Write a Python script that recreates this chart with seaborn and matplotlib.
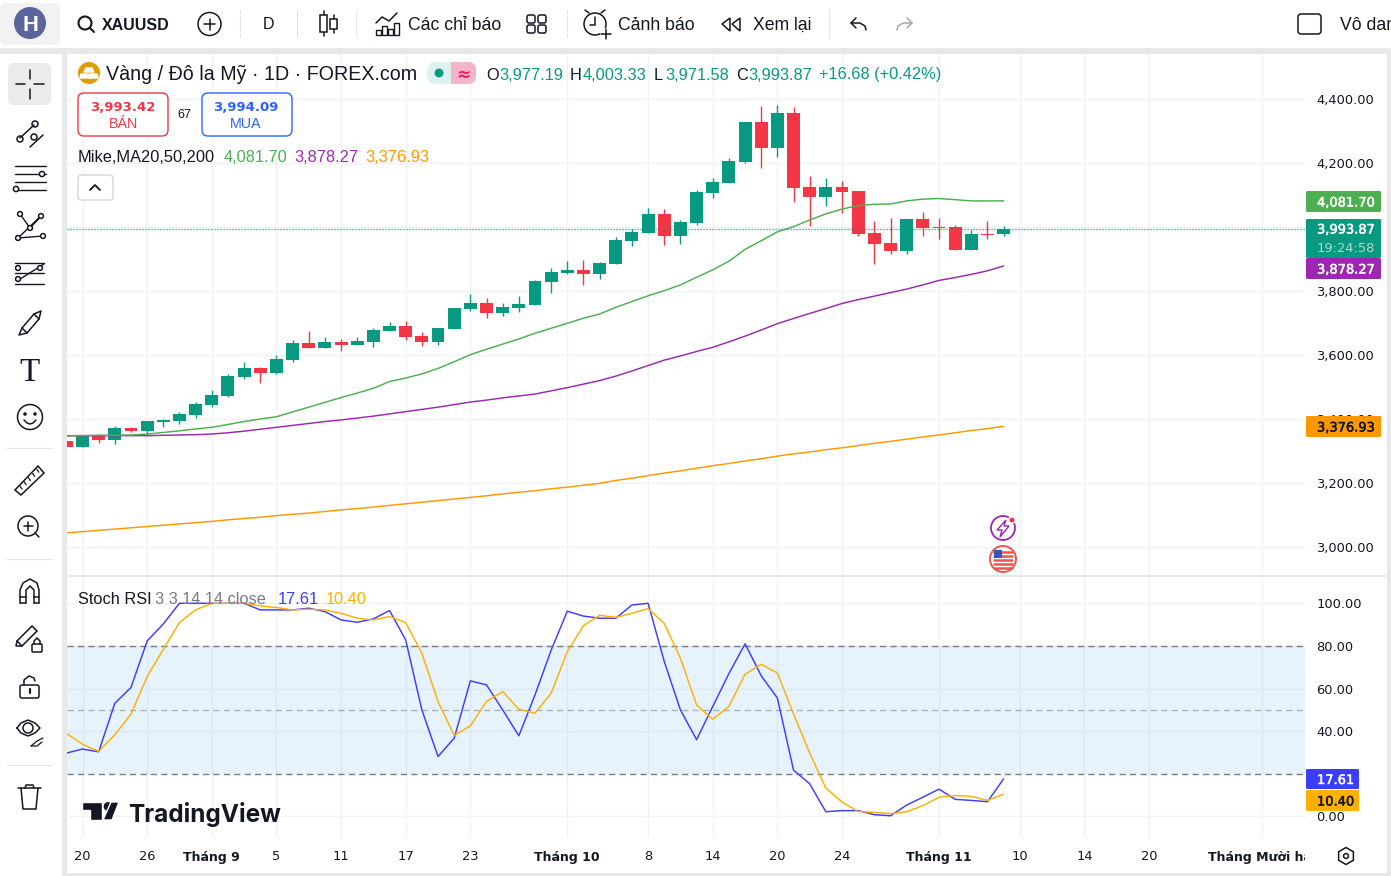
import matplotlib
matplotlib.use("Agg")
import matplotlib.pyplot as plt
import matplotlib.patheffects as pe
from matplotlib.patches import Circle, FancyBboxPatch, Polygon, Rectangle, RegularPolygon
import seaborn as sns

W, H = 1391, 876
BAR_PX = 16.16
BAR0_PX = 82.5

# daily candles, first one is cut by the left edge
bar_index = list(range(-1, 58))
opens = [3331, 3313, 3350, 3334, 3372, 3363, 3391, 3394, 3413, 3444, 3472, 3531, 3559, 3544, 3584, 3637.5, 3622, 3641, 3631, 3641,
         3675, 3691, 3659, 3641, 3681, 3744, 3762, 3731, 3747, 3756, 3828, 3856, 3866, 3853, 3884, 3956, 3981, 4041, 3972, 4012.5,
         4106, 4137.5, 4203, 4328, 4247, 4356, 4125, 4094, 4125, 4112.5, 3981, 3950, 3925, 4025, 4000, 4000, 3928, 3978, 3977.19]
highs = [3331, 3347, 3353, 3378, 3375, 3394, 3400, 3422, 3453, 3491, 3541, 3578, 3562, 3600, 3647, 3675, 3656, 3650, 3656, 3684,
         3703, 3706, 3672, 3684, 3747, 3791, 3778, 3762, 3784, 3834, 3872, 3894, 3897, 3891, 3969, 3994, 4059, 4056, 4022, 4116,
         4153, 4216, 4328, 4378, 4381, 4375, 4159, 4153, 4144, 4112.5, 4019, 4028, 4025, 4047, 4028, 4006, 3991, 4019, 4003.33]
lows = [3313, 3313, 3325, 3322, 3359, 3350, 3375, 3384, 3403, 3437.5, 3469, 3525, 3512.5, 3541, 3578, 3622, 3622, 3612.5, 3631, 3625,
        3675, 3647, 3628, 3631, 3681, 3737.5, 3716, 3722, 3734, 3756, 3794, 3853, 3819, 3837, 3884, 3941, 3981, 3944, 3947, 4006,
        4091, 4137.5, 4200, 4184, 4219, 4078, 4003, 4066, 4044, 3972, 3884, 3916, 3916, 3972, 3962.5, 3928, 3928, 3962.5, 3971.58]
closes = [3313, 3347, 3334, 3372, 3363, 3394, 3397, 3416, 3447, 3475, 3534, 3559, 3544, 3587.5, 3637.5, 3622, 3641, 3631, 3644, 3678,
          3691, 3656, 3641, 3684, 3747, 3762, 3731, 3750, 3759, 3831, 3859, 3866, 3853, 3888, 3959, 3984, 4041, 3972, 4016, 4109,
          4141, 4206, 4328, 4247, 4356, 4122, 4094, 4125, 4109, 3978, 3947, 3925, 4025, 3997, 3997, 3928, 3978, 3975, 3993.87]

ma20 = [3347, 3348, 3349, 3349, 3350, 3353, 3358, 3363, 3369, 3374, 3383, 3392, 3400, 3407, 3422, 3437, 3452, 3467, 3481, 3496,
        3517, 3528, 3541, 3558, 3579, 3601, 3618, 3634, 3650, 3668, 3683.5, 3699, 3715, 3728, 3749, 3767, 3785, 3801, 3819, 3843,
        3866, 3893, 3930, 3957, 3985, 4001, 4022, 4041, 4056, 4067, 4071, 4072, 4081.5, 4087, 4089, 4085.5, 4081.5, 4081.5, 4081.70]
ma50 = [3348, 3348, 3348, 3348, 3348, 3348, 3349, 3350, 3351, 3353, 3357, 3362, 3368, 3374, 3380, 3386, 3392, 3397, 3403, 3409,
        3416, 3423, 3430, 3437, 3445, 3453, 3459, 3466, 3472, 3478, 3488, 3498, 3509, 3520, 3534, 3550, 3567, 3584, 3597, 3611,
        3624, 3641, 3659, 3678, 3698, 3714, 3730, 3745, 3761, 3773, 3784, 3795, 3806, 3819, 3833, 3842, 3852, 3863, 3878.27]
ma200 = [3044, 3048, 3052, 3056, 3060, 3064, 3068, 3072, 3076, 3080, 3085, 3089, 3093, 3098, 3102, 3106, 3111, 3116, 3120, 3125,
         3130, 3135, 3140, 3145, 3150, 3155, 3160, 3166, 3171, 3176, 3182, 3187, 3193, 3199, 3208, 3215, 3223, 3231, 3238, 3246,
         3254, 3261, 3269, 3276, 3284, 3291, 3297, 3304, 3310, 3317, 3324, 3330, 3337, 3344, 3350, 3357, 3364, 3370, 3376.93]

stoch_k = [29.7, 31.6, 30.3, 53.1, 60.5, 82.3, 90.3, 100, 100, 100, 100, 100, 96.9, 96.9, 96.9, 97.7, 96.1, 92.2, 91.1, 92.7,
           96.6, 82.8, 50, 28.1, 36.7, 63.6, 61.7, 50, 37.8, 57, 78, 96.3, 94, 93, 93, 99.2, 100, 72.7, 50, 36,
           51.6, 67, 81, 66, 55.5, 21.7, 15.3, 2.2, 2.7, 2.7, 0.8, 0.3, 5.3, 9, 12.8, 8, 7.5, 6.9, 17.61]
stoch_d = [39, 33.9, 30.5, 38.3, 48, 65.6, 78.4, 91, 96.9, 100, 100, 100, 98.8, 98, 96.9, 97.2, 96.9, 95.3, 93, 92.2,
           93.8, 90.9, 76.6, 53.9, 38, 42.5, 53.9, 58.6, 50.3, 48.4, 57.8, 77.3, 89.5, 94.4, 93.4, 95.3, 97.5, 90.6, 74.2, 52.3,
           45.6, 51.6, 66.7, 71.4, 67.3, 48, 29.7, 13.3, 6.7, 2.3, 1.9, 1.3, 2.2, 5, 9, 9.8, 9.4, 7.5, 10.4]

price_ticks = [3000, 3200, 3400, 3600, 3800, 4200, 4400]
stoch_ticks = [0, 40, 60, 80, 100]
grid_bars = [0, 4, 8, 12, 16, 20, 24, 30, 35, 39, 43, 47, 53, 58, 62, 66, 73]
grid_labels = ["20", "26", "Tháng 9", "5", "11", "17", "23", "Tháng 10", "8", "14", "20", "24", "Tháng 11", "10", "14", "20", "Tháng Mười hai"]

UP = "#089981"
DOWN = "#F23645"
INK = "#131722"
STRIP = "#E8E8E8"
GRID = "#F2F2F2"
C20, C50, C200 = "#4CAF50", "#9C27B0", "#FF9800"
CK, CD = "#3D3DFF", "#FFB000"
AXIS_FONT = 9.4
UI_FONT = "Liberation Sans"

sns.set_theme(style="white")
plt.rcParams["font.family"] = ["Liberation Sans", "DejaVu Sans"]

fig = plt.figure(figsize=(W / 100, H / 100), dpi=100, facecolor="white")


def px_axes(x0, y0, x1, y1, **kw):
	return fig.add_axes([x0 / W, 1 - y1 / H, (x1 - x0) / W, (y1 - y0) / H], **kw)


def style_pane(ax, yticks):
	ax.set_xlim((67 - BAR0_PX) / BAR_PX, (1305 - BAR0_PX) / BAR_PX)
	ax.set_xticks(grid_bars)
	ax.set_yticks(yticks)
	ax.yaxis.tick_right()
	ax.grid(True, color=GRID, lw=1)
	ax.set_axisbelow(True)
	ax.set_xlabel("")
	ax.set_ylabel("")
	for s in ax.spines.values():
		s.set_visible(False)
	ax.tick_params(axis="both", length=0, labelsize=AXIS_FONT, labelcolor=INK, pad=8.1)


# price pane
ax = px_axes(67, 54, 1305, 576)
ax.set_ylim(4400 - (576 - 99) * 3.125, 4400 + (99 - 54) * 3.125)
# the 4,000 line is behind the price tags, its label is not shown
ax.axhline(4000, color=GRID, lw=1, zorder=0.5)

colors = [UP if c >= o else DOWN for o, c in zip(opens, closes)]
ax.vlines(bar_index, lows, highs, colors=colors, lw=1.0, zorder=2)
ax.bar(bar_index, [abs(c - o) for o, c in zip(opens, closes)], bottom=[min(o, c) for o, c in zip(opens, closes)],
       width=0.8, color=colors, linewidth=0, zorder=3)
for series, col in [(ma200, C200), (ma50, C50), (ma20, C20)]:
	sns.lineplot(x=bar_index, y=series, color=col, lw=1.05, ax=ax, legend=False, errorbar=None, zorder=4)
ax.axhline(closes[-1], color=UP, lw=1, ls=(0, (0.8, 1.36)), zorder=5)
style_pane(ax, price_ticks)
ax.set_yticklabels([f"{p:,.2f}" for p in price_ticks], family="DejaVu Sans", va="center_baseline")
ax.set_xticklabels([])

# stoch pane
ax2 = px_axes(67, 577, 1305, 838)
ax2.set_ylim((816.4 - 838) / 2.131, (816.4 - 577) / 2.131)
ax2.axhspan(20, 80, color="#2196F3", alpha=0.11, lw=0, zorder=1)
for lvl, a in [(80, 1), (50, 0.55), (20, 1)]:
	ax2.axhline(lvl, color="#787B86", lw=1, ls=(0, (4.5, 3)), alpha=a, zorder=2)
sns.lineplot(x=bar_index, y=stoch_k, color=CK, lw=1.05, ax=ax2, legend=False, errorbar=None, zorder=3)
sns.lineplot(x=bar_index, y=stoch_d, color=CD, lw=1.05, ax=ax2, legend=False, errorbar=None, zorder=4)
style_pane(ax2, stoch_ticks)
ax2.set_yticklabels([f"{v:.2f}" for v in stoch_ticks], family="DejaVu Sans", va="center_baseline")
ax2.set_xticklabels(grid_labels, family="DejaVu Sans")
for lab in ax2.get_xticklabels():
	if lab.get_text().startswith("Tháng"):
		lab.set_fontweight("bold")
		lab.set_fontsize(9.0)
ax2.tick_params(axis="x", pad=9)

# everything around the chart, in screen pixels
ui = px_axes(0, 0, W, H, zorder=10)
ui.set_xlim(0, W)
ui.set_ylim(H, 0)
ui.axis("off")
ui.patch.set_alpha(0)


def line(xs, ys, lw=1.1, c=INK, z=11):
	ui.plot(xs, ys, color=c, lw=lw, solid_capstyle="round", zorder=z)


def rect(x0, y0, x1, y1, fc, ec="none", lw=0, z=5):
	ui.add_patch(Rectangle((x0, y0), x1 - x0, y1 - y0, fc=fc, ec=ec, lw=lw, zorder=z))


def rbox(x0, y0, x1, y1, r=4, fc="white", ec="none", lw=1, z=6):
	ui.add_patch(FancyBboxPatch((x0 + r, y0 + r), x1 - x0 - 2 * r, y1 - y0 - 2 * r, boxstyle=f"round,pad={r},rounding_size={r}",
	                            fc=fc, ec=ec, lw=lw, zorder=z))


def circ(x, y, r, fc="none", ec=INK, lw=1.1, z=11):
	ui.add_patch(Circle((x, y), r, fc=fc, ec=ec, lw=lw, zorder=z))


def txt(x, y, s, px=16.4, c=INK, ha="left", w="normal", fam=None, z=12, stroke=False):
	t = ui.text(x, y, s, fontsize=px * 0.72, color=c, ha=ha, va="center_baseline", fontweight=w, family=fam or UI_FONT, zorder=z)
	if stroke:
		t.set_path_effects([pe.withStroke(linewidth=0.35, foreground=c)])


# grey gutters
rect(0, 48, W, 54, STRIP)
rect(62, 48, 67, H, STRIP)
rect(1387, 48, W, H, STRIP)
rect(62, 873, W, H, STRIP)
line([67, 1387], [576, 576], lw=1.3, c="#E6E6E6", z=6)
rect(1305, 838, 1387, 873, "white")

# top bar
rbox(0, 3, 60, 45, r=6, fc="#F2F2F2")
circ(30, 23, 16, fc="#5B659C", ec="none")
txt(30, 23, "H", px=22, c="white", ha="center", w="bold")
circ(85, 23, 6.5, lw=1.5)
line([90, 94], [28, 32], lw=1.5)
txt(102, 23.5, "XAUUSD", px=16, w="bold")
circ(209.5, 24, 11.5)
line([204, 215], [24, 24])
line([209.5, 209.5], [18.5, 29.5])
for sx in [240, 297, 356, 567, 829]:
	line([sx, sx], [10, 37], lw=0.8, c="#E4E4E4")
txt(269, 23, "D", px=16, ha="center")
for cx, y0, y1, b0, b1 in [(323.5, 11, 36, 15, 32), (333.5, 15, 33, 19, 29)]:
	line([cx, cx], [y0, y1])
	ui.add_patch(Rectangle((cx - 3.5, b0), 7, b1 - b0, fc="white", ec=INK, lw=1.1, zorder=12))
for bx, top in [(378, 30), (384, 26), (390, 29), (396, 23)]:
	ui.add_patch(Rectangle((bx - 2.5, top), 5, 35 - top, fc="white", ec=INK, lw=1, zorder=11))
line([376, 382, 389, 397], [23, 17, 21, 13])
txt(408, 23, "Các chỉ báo", px=17.6)
for qx, qy in [(527, 15), (538, 15), (527, 25), (538, 25)]:
	rbox(qx, qy, qx + 8, qy + 8, r=2, ec=INK, lw=1.1, z=11)
circ(595, 24, 11)
line([595, 595, 590], [17, 25, 25])
line([585, 589], [10, 13])
line([605, 601], [10, 13])
rect(600, 28, 612, 40, "white", z=11.5)
line([601, 611], [34, 34], z=13)
line([606, 606], [29, 39], z=13)
txt(618, 23, "Cảnh báo", px=17.6)
ui.add_patch(Polygon([(730, 18), (722, 24), (730, 31)], closed=True, fc="none", ec=INK, lw=1.1, zorder=11))
ui.add_patch(Polygon([(740, 18), (732, 24), (740, 31)], closed=True, fc="none", ec=INK, lw=1.1, zorder=11))
txt(753, 23, "Xem lại", px=17.6)
line([856, 851, 856], [18, 23, 28])
line([851, 860, 865, 866], [23, 23, 26, 30])
line([907, 912, 907], [18, 23, 28], c="#A8A8A8")
line([912, 903, 898, 897], [23, 23, 26, 30], c="#A8A8A8")
rbox(1298, 14, 1321, 34, r=3, ec=INK, lw=1.1, z=11)
txt(1340, 23, "Vô dan", px=17.6)

# side toolbar
rbox(8, 63, 51, 105, r=6, fc="#EBEBEB")
line([16, 25], [84, 84])
line([34, 44], [84, 84])
line([30, 30], [70, 79])
line([30, 30], [89, 99])
for sy in [448, 559, 765]:
	line([7, 52], [sy, sy], lw=0.8, c="#E4E4E4")
# trend lines
line([20, 34], [138, 125])
line([30, 43], [147, 135])
circ(35, 124, 3)
circ(20, 139, 3)
circ(34, 137, 3)
# fib
for fy in [166, 174, 182, 190]:
	line([15, 46], [fy, fy], lw=1)
circ(42, 174, 2.6, fc="white")
circ(16, 189, 2.6, fc="white")
# pattern
line([20, 30, 41, 18, 43], [214, 228, 216, 238, 236], lw=1)
for px_, py_ in [(20, 214), (41, 216), (30, 228), (18, 238), (43, 236)]:
	circ(px_, py_, 2.4, fc="white")
# gann
for fy in [263, 273, 284]:
	line([15, 44], [fy, fy], lw=1)
line([17, 44], [281, 264], lw=1)
circ(18, 268, 2.4, fc="white")
circ(40, 268, 2.4, fc="white")
circ(18, 279, 2.4, fc="white")
# brush
ui.add_patch(Polygon([(22, 328), (34, 314), (39, 319), (27, 333)], closed=True, fc="none", ec=INK, lw=1.1, zorder=11))
line([22, 19, 27], [328, 335, 333])
line([34, 41, 39], [314, 311, 319])
txt(30, 369, "T", px=33, ha="center", fam="Liberation Serif")
circ(30, 417, 12.5)
circ(25, 414, 1, fc=INK)
circ(35, 414, 1, fc=INK)
line([24, 27, 30, 33, 36], [420, 423, 424, 423, 420])
# ruler
ui.add_patch(Polygon([(15, 490), (38, 466), (44, 473), (21, 495)], closed=True, fc="none", ec=INK, lw=1.1, zorder=11))
for k in range(5):
	line([20 + k * 4.2, 22 + k * 4.2], [486 - k * 4.2, 489 - k * 4.2], lw=0.9)
# zoom
circ(28, 526, 10)
line([35, 39], [533, 537])
line([23.5, 32.5], [526, 526])
line([28, 28], [521.5, 530.5])
# magnet
line([20, 20, 23, 30, 37, 39, 39], [603, 590, 583, 579, 583, 590, 603])
line([26, 26, 30, 34, 34], [603, 590, 586, 590, 603])
line([20, 26], [603, 603])
line([34, 39], [603, 603])
line([20, 26], [597, 597])
line([34, 39], [597, 597])
# pencil with lock
ui.add_patch(Polygon([(17, 641), (32, 626), (37, 631), (22, 646)], closed=True, fc="none", ec=INK, lw=1.1, zorder=11))
line([17, 16, 22], [641, 646, 646])
rbox(32, 644, 42, 652, r=1, ec=INK, lw=1.1, z=11)
line([34, 34, 37, 40, 40], [644, 641, 638, 641, 644])
# open lock
rbox(20, 685, 39, 698, r=2, ec=INK, lw=1.1, z=11)
line([24, 24, 29, 34, 35], [685, 680, 676, 678, 681])
line([29.5, 29.5], [689, 693], lw=1.6)
# eye
line([17, 21, 28, 35, 40, 35, 28, 21, 17], [728, 723, 720, 723, 728, 733, 736, 733, 728])
circ(28, 728, 5)
line([31, 37, 43], [746, 741, 738], lw=0.9)
line([31, 37, 42], [746, 746, 742], lw=0.9)
# bin
line([18, 41], [788, 788])
line([21, 23, 36, 38], [788, 809, 809, 788])
line([25, 26, 33, 34], [788, 785, 785, 788])

# chart header
circ(89, 73, 11, fc="#DD9F00", ec="none")
ui.add_patch(Polygon([(86, 68), (92, 68), (94, 72), (84, 72)], closed=True, fc="white", zorder=12))
ui.add_patch(Polygon([(81, 74), (88, 74), (89, 78), (80, 78)], closed=True, fc="white", zorder=12))
ui.add_patch(Polygon([(90, 74), (97, 74), (98, 78), (89, 78)], closed=True, fc="white", zorder=12))
txt(106, 73, "Vàng / Đô la Mỹ · 1D · FOREX.com", px=19.66)
rbox(427, 62, 476, 84, r=9, fc="#DDF2EE", z=6)
ui.add_patch(FancyBboxPatch((460, 66), 12, 14, boxstyle="round,pad=4,rounding_size=8", fc="#F4B4CA", ec="none", zorder=7))
rect(451, 62, 460, 84, "#F4B4CA", z=7)
circ(439, 73, 4.4, fc=UP, ec="none")
txt(463, 73, "≈", px=17, c="#E91E63", ha="center", w="bold", fam="DejaVu Sans")
for x, s, c in [(486, "O", INK), (499, "3,977.19", UP), (570, "H", INK), (583, "4,003.33", UP), (654, "L", INK), (665, "3,971.58", UP),
                (736, "C", INK), (748, "3,993.87", UP), (819, "+16.68 (+0.42%)", UP)]:
	txt(x, 73.5, s, px=16.4, c=c)
rbox(78, 93, 168, 136, r=6, ec=DOWN, lw=1)
rbox(202, 93, 292, 136, r=6, ec="#2962FF", lw=1)
txt(123, 106, "3,993.42", px=13.2, c=DOWN, ha="center", w="bold", fam="DejaVu Sans")
txt(123, 123, "BÁN", px=14.3, c=DOWN, ha="center")
txt(246, 106, "3,994.09", px=13.2, c="#2962FF", ha="center", w="bold", fam="DejaVu Sans")
txt(246, 123, "MUA", px=14.3, c="#2962FF", ha="center")
txt(184, 113, "67", px=12.5, ha="center")
for x, s, c in [(78, "Mike,MA20,50,200", INK), (224, "4,081.70", C20), (294, "3,878.27", C50), (365, "3,376.93", C200)]:
	txt(x, 155.5, s, px=16.4, c=c)
rbox(78, 175, 113, 200, r=3, ec="#D6D6D6", lw=1)
line([90, 95, 100], [190, 185, 190], lw=1.3)

# stoch legend
for x, s, c in [(78, "Stoch RSI", INK), (155, "3 3 14 14 close", "#787B86"), (278, "17.61", CK), (326, "10.40", CD)]:
	txt(x, 597.5, s, px=16.4, c=c)

# price tags
for y0, y1, fc, s, tc, x1 in [(191, 212, C20, "4,081.70", "white", 1381), (258, 279, C50, "3,878.27", "white", 1381),
                              (416, 437, C200, "3,376.93", INK, 1381), (769, 789, CK, "17.61", "white", 1359),
                              (790, 811, CD, "10.40", INK, 1359)]:
	rbox(1306, y0, x1, y1, r=1.5, fc=fc, z=7)
	txt(1317, (y0 + y1) / 2, s, px=13, c=tc, fam="DejaVu Sans", stroke=True)
rbox(1306, 219, 1381, 258, r=1.5, fc=UP, z=7)
txt(1317, 228.5, "3,993.87", px=13, c="white", fam="DejaVu Sans", stroke=True)
txt(1317, 247, "19:24:58", px=13, c="#A6DDD2", fam="DejaVu Sans")

# event markers
circ(1003, 528, 12, ec="#9C27B0", lw=1.3)
ui.add_patch(Polygon([(1006, 520), (997, 530), (1002, 530), (1000, 537), (1009, 526), (1004, 526)], closed=True, fc="none", ec="#9C27B0", lw=1, zorder=12))
circ(1012, 520, 3.2, fc=DOWN, ec="white", lw=1, z=13)
circ(1003, 559, 13, fc="white", ec="#EF5350", lw=1.4)
for fy in [552, 556, 560, 564, 568]:
	line([994, 1012], [fy, fy], lw=1.8, c="#EF5350", z=12)
rect(994, 550, 1002, 558, "#3F51B5", z=13)

# logo
ui.add_patch(Polygon([(82, 802), (102, 802), (102, 820), (90, 820), (90, 810), (82, 810)], closed=True, fc=INK, zorder=12))
circ(108, 806.5, 4.4, fc=INK, ec="none")
ui.add_patch(Polygon([(112, 820), (103, 820), (111, 802), (119, 802)], closed=True, fc=INK, zorder=12))
txt(128, 812, "TradingView", px=24.4, w="bold", fam="Inter")

# settings hexagon
ui.add_patch(RegularPolygon((1346, 856), 6, radius=8.5, fc="none", ec=INK, lw=1.1, zorder=11))
circ(1346, 856, 2.4)

fig.savefig("out.png", dpi=100)
